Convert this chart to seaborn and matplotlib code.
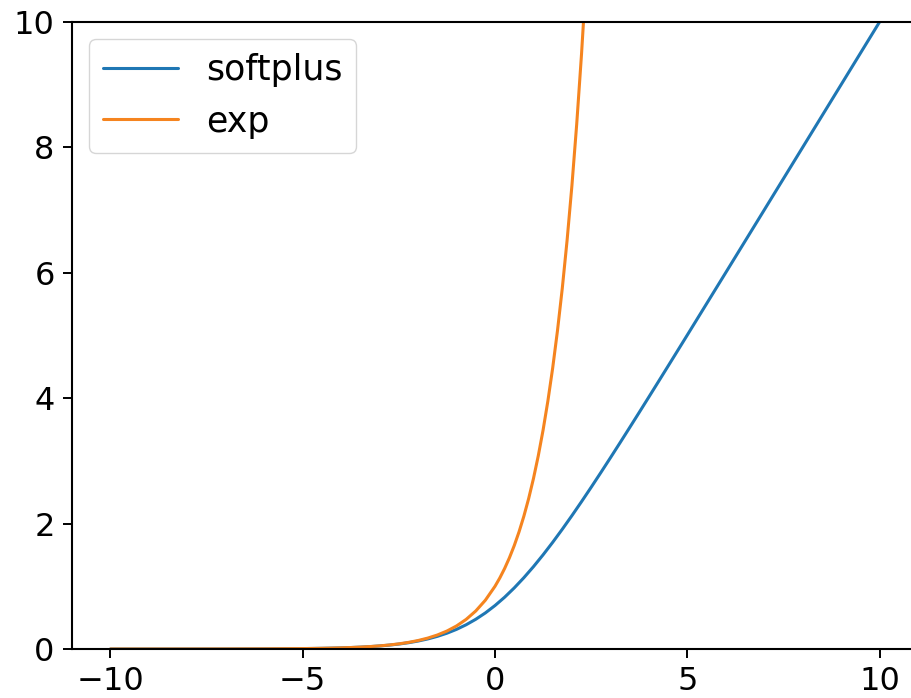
import numpy as np
import pandas as pd
import matplotlib
matplotlib.use("Agg")
import matplotlib.pyplot as plt
import seaborn as sns

# ---- data ----
x_softplus = [-10, -9, -8, -7, -6,
              -5, -4.75, -4.5, -4.25, -4, -3.75, -3.5, -3.25, -3, -2.75, -2.5, -2.25,
              -2, -1.75, -1.5, -1.25, -1, -0.75, -0.5, -0.25, 0,
              0.25, 0.5, 0.75, 1, 1.25, 1.5, 1.75, 2, 2.25, 2.5, 2.75, 3, 3.25,
              3.5, 3.75, 4, 4.25, 4.5, 4.75, 5,
              6, 7, 8, 9, 10]
y_softplus = [0.000045, 0.000123, 0.000335, 0.000911, 0.002476,
              0.006715, 0.008615, 0.011048, 0.014163, 0.018150, 0.023246, 0.029750, 0.038042,
              0.048587, 0.061968, 0.078890, 0.100206,
              0.126928, 0.160225, 0.201413, 0.251929, 0.313262, 0.386871, 0.474077, 0.575710,
              0.693147,
              0.825710, 0.974077, 1.136871, 1.313262, 1.501929, 1.701413, 1.910225, 2.126928,
              2.350206, 2.578890, 2.811968, 3.048587, 3.288042,
              3.529750, 3.773246, 4.018150, 4.264163, 4.511048, 4.758615, 5.006715,
              6.002476, 7.000911, 8.000335, 9.000123, 10.000045]

x_exp = [-10, -9, -8, -7, -6,
         -5, -4.75, -4.5, -4.25, -4, -3.75, -3.5, -3.25, -3, -2.75, -2.5, -2.25,
         -2, -1.75, -1.5, -1.25, -1, -0.75, -0.5, -0.25, 0,
         0.125, 0.25, 0.375, 0.5, 0.625, 0.75, 0.875, 1, 1.125, 1.25, 1.375,
         1.5, 1.625, 1.75, 1.875, 2, 2.125, 2.25, 2.375, 2.5]
y_exp = [0.000045, 0.000123, 0.000335, 0.000912, 0.002479,
         0.006738, 0.008652, 0.011109, 0.014264, 0.018316, 0.023518, 0.030197, 0.038774,
         0.049787, 0.063928, 0.082085, 0.105399,
         0.135335, 0.173774, 0.223130, 0.286505, 0.367879, 0.472367, 0.606531, 0.778801,
         1.0,
         1.133148, 1.284025, 1.454991, 1.648721, 1.868246, 2.117000, 2.398875, 2.718282,
         3.080217, 3.490343, 3.955075, 4.481689, 5.078417, 5.754603, 6.520816,
         7.389056, 8.372893, 9.487736, 10.751011, 12.182494]

series_names = ["softplus", "exp"]
x_ticks = [-10, -5, 0, 5, 10]
y_ticks = [0, 2, 4, 6, 8, 10]

df = pd.concat([
    pd.DataFrame({"x": x_softplus, "y": y_softplus, "fn": series_names[0]}),
    pd.DataFrame({"x": x_exp, "y": y_exp, "fn": series_names[1]}),
], ignore_index=True)

sns.set_theme(style="ticks", palette="tab10")
plt.rcParams["font.family"] = ["DejaVu Sans"]
plt.rcParams["text.color"] = "black"

fig = plt.figure(figsize=(9.11, 6.98), dpi=100)
ax = fig.add_axes([72 / 911, 1 - 649 / 698, (918 - 72) / 911, (649 - 22) / 698])

sns.lineplot(data=df, x="x", y="y", hue="fn", hue_order=series_names,
             palette=["#1f77b4", "#f5841f"], linewidth=2.2, ax=ax, sort=False,
             estimator=None)

ax.set_xlim(-11, 11)
ax.set_ylim(0, 10)
ax.set_xticks(x_ticks)
ax.set_yticks(y_ticks)
ax.set_xlabel("")
ax.set_ylabel("")
ax.tick_params(axis="both", labelsize=23, length=6.5, width=1.4, pad=6, color="black",
               labelcolor="black")
for sp in ax.spines.values():
    sp.set_linewidth(1.5)
    sp.set_color("black")

handles, labels = ax.get_legend_handles_labels()
leg = ax.legend(handles=handles, labels=labels, loc="upper left", fontsize=25,
                frameon=True, fancybox=True, framealpha=0.8, edgecolor="#cccccc",
                handlelength=2.15, title=None)
for t in leg.get_texts():
    t.set_color("black")

fig.savefig("out.png", dpi=100)
